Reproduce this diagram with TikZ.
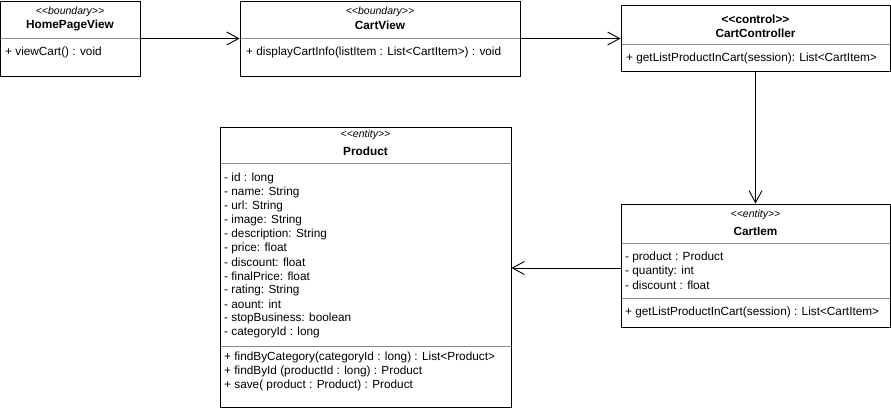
\documentclass[tikz,border=0pt]{standalone}
\usepackage{fontspec}
\setmainfont{Liberation Sans}
\usetikzlibrary{arrows.meta}
\newcommand{\stq}[1]{<\kern0pt<#1>\kern0pt>}
\tikzset{
  box/.style={draw=black, line width=0.9pt, rectangle, inner sep=0pt, fill=white},
  divider/.style={draw=black!45, line width=0.8pt},
  stereo/.style={inner sep=0pt, font=\fontsize{10.5}{12}\selectfont\itshape},
  cname/.style={inner sep=0pt, font=\fontsize{11.8}{13}\selectfont\bfseries},
  ctrl/.style={inner sep=0pt, font=\fontsize{11.8}{13}\selectfont\bfseries},
  member/.style={inner sep=0pt, anchor=west, font=\fontsize{11.8}{14}\selectfont},
  arr/.style={draw=black, line width=0.9pt, -{Straight Barb[length=12pt,width=13pt,line width=0.9pt]}},
}
\begin{document}
\begin{tikzpicture}[x=1pt,y=-1pt]
\useasboundingbox (0,0) rectangle (891,408);

% HomePageView
\node[box, minimum width=139.5pt, minimum height=75pt] (hpv) at (70.25,38.5) {};
\node[stereo] (hpvs) at (70,12) {\stq{boundary}};
\node[cname] (hpvn) at (70,25) {HomePageView};
\draw[divider] (0.9,38) -- (139.5,38);
\node[member] (hpvm) at (5,52) {+ viewCart() : void};

% CartView
\node[box, minimum width=280pt, minimum height=75pt] (cv) at (380,38.5) {};
\node[stereo] (cvs) at (380,12) {\stq{boundary}};
\node[cname] (cvn) at (380,25) {CartView};
\draw[divider] (240.5,38) -- (519.5,38);
\node[member] (cvm) at (246,52) {+ displayCartInfo(listItem : List<CartItem>) : void};

% CartController
\node[box, minimum width=269pt, minimum height=66pt] (cc) at (755.5,38) {};
\node[ctrl] (ccs) at (755.5,19) {\stq{control}};
\node[cname] (ccn) at (755.5,33) {CartController};
\draw[divider] (621.5,44) -- (889.5,44);
\node[member] (ccm) at (626,58) {+ getListProductInCart(session): List<CartItem>};

% Product
\node[box, minimum width=291pt, minimum height=280pt] (prod) at (365.5,267) {};
\node[stereo] (prods) at (365.5,135) {\stq{entity}};
\node[cname] (prodn) at (365.5,151) {Product};
\draw[divider] (220.5,163) -- (510.5,163);
\foreach \t [count=\i from 0] in {- id : long, - name: String, - url: String, - image: String, - description: String, - price: float, - discount: float, - finalPrice: float, - rating: String, - aount: int, - stopBusiness: boolean, - categoryId : long}
  \node[member] (pa\i) at (224,{178+14*\i}) {\t};
\draw[divider] (220.5,346) -- (510.5,346);
\node[member] (pm0) at (224,357) {+ findByCategory(categoryId : long) : List<Product>};
\node[member] (pm1) at (224,371) {+ findById (productId : long) : Product};
\node[member] (pm2) at (224,385) {+ save( product : Product) : Product};

% CartItem
\node[box, minimum width=269pt, minimum height=123pt] (ci) at (755.5,265.5) {};
\node[stereo] (cis) at (755.5,215) {\stq{entity}};
\node[cname] (cin) at (755.5,231) {CartIem};
\draw[divider] (621.5,243) -- (889.5,243);
\node[member] (ca0) at (625,257) {- product : Product};
\node[member] (ca1) at (625,271) {- quantity: int};
\node[member] (ca2) at (625,285) {- discount : float};
\draw[divider] (621.5,298) -- (889.5,298);
\node[member] (cim) at (625,312) {+ getListProductInCart(session) : List<CartItem>};

% connectors
\draw[arr] (hpv.east) -- (cv.west);
\draw[arr] (cv.east) -- (cv.east -| cc.west);
\draw[arr] (cc.south) -- (ci.north);
\draw[arr] ([yshift=-2.5pt]ci.west) -- ([yshift=-2.5pt]ci.west -| prod.east);
\end{tikzpicture}
\end{document}
